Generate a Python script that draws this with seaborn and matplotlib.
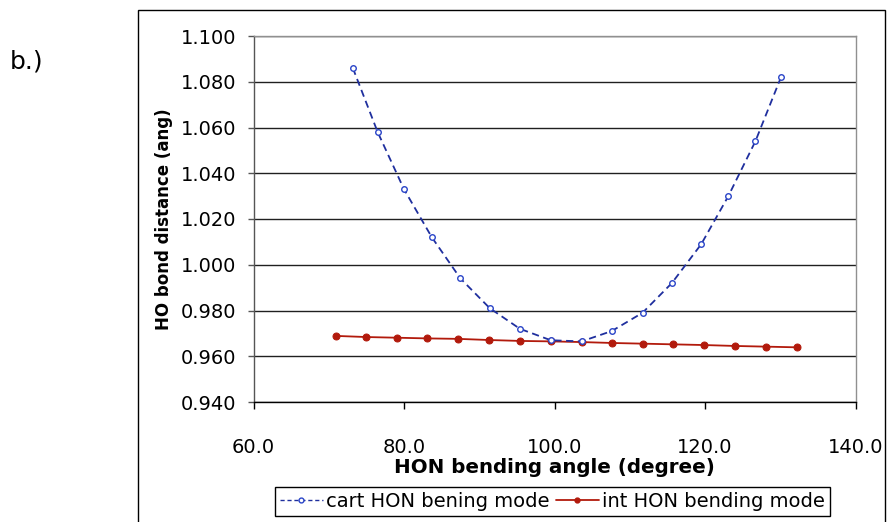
import numpy as np
import pandas as pd
import matplotlib
matplotlib.use('Agg')
import matplotlib.pyplot as plt
import seaborn as sns
from matplotlib.patches import Rectangle
from matplotlib.lines import Line2D

# values
cart_angle = [73.2, 76.5, 80.0, 83.7, 87.5, 91.4, 95.4, 99.5,
              103.6, 107.6, 111.7, 115.6, 119.5, 123.1, 126.7, 130.1]
cart_dist = [1.086, 1.058, 1.033, 1.012, 0.994, 0.981, 0.972, 0.967,
             0.9665, 0.971, 0.979, 0.992, 1.009, 1.030, 1.054, 1.082]

int_angle = [70.9, 75.0, 79.1, 83.1, 87.2, 91.3, 95.4, 99.5,
             103.6, 107.7, 111.8, 115.8, 119.9, 124.0, 128.1, 132.2]
int_dist = [0.9689, 0.9684, 0.9681, 0.9678, 0.9676, 0.9671, 0.9667, 0.9665,
            0.9662, 0.9658, 0.9655, 0.9652, 0.9649, 0.9645, 0.9642, 0.9639]

x_ticks = [60.0, 80.0, 100.0, 120.0, 140.0]
y_ticks = [0.940, 0.960, 0.980, 1.000, 1.020, 1.040, 1.060, 1.080, 1.100]

cart_label = 'cart HON bening mode'
int_label = 'int HON bending mode'

sns.set_style('white')
plt.rcParams['font.family'] = ['DejaVu Sans']
plt.rcParams['text.color'] = 'black'
plt.rcParams['axes.labelcolor'] = 'black'

blue = '#1f2f9e'
red = '#b21a0c'

fig = plt.figure(figsize=(8.93, 5.22), dpi=100)
ax = fig.add_axes([253.5 / 893, 1 - 402 / 522, 602 / 893, 366 / 522])

cart = pd.DataFrame({'angle': cart_angle, 'dist': cart_dist})
intl = pd.DataFrame({'angle': int_angle, 'dist': int_dist})

sns.lineplot(data=intl, x='angle', y='dist', ax=ax, sort=False, color=red,
             lw=1.3, marker='o', markersize=5, markeredgecolor=red,
             markerfacecolor=red, zorder=3)
sns.lineplot(data=cart, x='angle', y='dist', ax=ax, sort=False, color=blue,
             lw=1.3, dashes=False, marker='o', markersize=4,
             markeredgecolor='#2a45c8', markerfacecolor='white',
             markeredgewidth=1.0, zorder=4)
ax.lines[-1].set_dashes((4, 2.5))

ax.set_xlim(60, 140)
ax.set_ylim(0.94, 1.10)
ax.set_xticks(x_ticks)
ax.set_yticks(y_ticks)
ax.set_xticklabels(['%.1f' % v for v in x_ticks])
ax.set_yticklabels(['%.3f' % v for v in y_ticks])
ax.yaxis.grid(True, color='#202020', lw=1.0)
ax.set_axisbelow(True)

ax.tick_params(axis='x', direction='out', length=5, width=1, color='black',
               pad=21, labelsize=14, labelcolor='black', bottom=True)
ax.tick_params(axis='y', direction='out', length=4.5, width=1, color='#555555',
               pad=8, labelsize=14, labelcolor='black', left=True)

for side in ['top', 'right']:
    ax.spines[side].set_color('#909090')
    ax.spines[side].set_linewidth(1.0)
ax.spines['left'].set_color('#555555')
ax.spines['bottom'].set_color('black')
ax.spines['left'].set_linewidth(1.0)
ax.spines['bottom'].set_linewidth(1.0)

ax.set_xlabel('HON bending angle (degree)', fontsize=14.3, fontweight='bold')
ax.set_ylabel('HO bond distance (ang)', fontsize=12, fontweight='bold')
ax.xaxis.set_label_coords(0.5, -0.153)
ax.yaxis.set_label_coords(-0.134, 0.5)

handles = [
    Line2D([], [], color=blue, lw=1.0, dashes=(3, 2), marker='o',
           markersize=3.5, markerfacecolor='white', markeredgecolor='#2a45c8'),
    Line2D([], [], color=red, lw=1.3, marker='o', markersize=3.5,
           markerfacecolor=red, markeredgecolor=red),
]
leg = fig.legend(handles, [cart_label, int_label], loc='upper center',
                 bbox_to_anchor=(552.5 / 893, 1 - 487 / 522), ncol=2,
                 fontsize=14, frameon=True, fancybox=False, framealpha=1,
                 edgecolor='black', handlelength=2.2, handletextpad=0.2,
                 columnspacing=0.3, borderpad=0.25, borderaxespad=0)
leg.get_frame().set_linewidth(1.0)

# outer chart border
fig.patches.append(Rectangle((138 / 893, -0.05), (885 - 138) / 893,
                             1.05 - 10 / 522, transform=fig.transFigure,
                             fill=False, edgecolor='black', lw=1.0))

fig.text(10 / 893, 1 - 61 / 522, 'b.)', fontsize=18, va='center', ha='left')

fig.savefig('out.png', dpi=100)
